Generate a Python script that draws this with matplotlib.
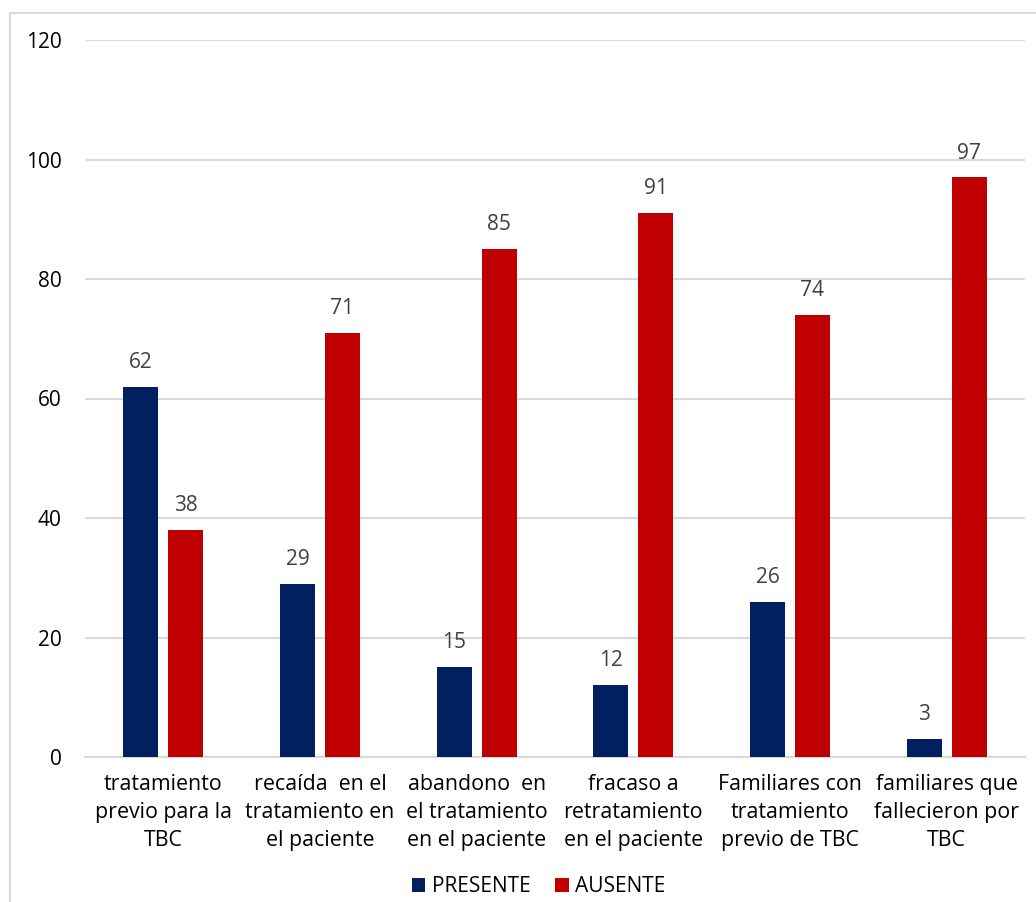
import matplotlib
matplotlib.use("Agg")
import matplotlib.pyplot as plt
import numpy as np
from matplotlib.patches import Rectangle

categories = ["tratamiento\nprevio para la\nTBC",
              "recaída  en el\ntratamiento en\nel paciente",
              "abandono  en\nel tratamiento\nen el paciente",
              "fracaso a\nretratamiento\nen el paciente",
              "Familiares con\ntratamiento\nprevio de TBC",
              "familiares que\nfallecieron por\nTBC"]
presente = [62, 29, 15, 12, 26, 3]
ausente = [38, 71, 85, 91, 74, 97]
series_names = ["PRESENTE", "AUSENTE"]
yticks = [0, 20, 40, 60, 80, 100, 120]

plt.rcParams['font.family'] = ['Open Sans', 'DejaVu Sans']

fig = plt.figure(figsize=(10.36, 9.02), dpi=100)
ax = fig.add_axes([85/1036, 1-757/902, 940/1036, 717/902])

x = np.arange(len(categories))
w = 0.223
off = 0.1435
b1 = ax.bar(x - off, presente, w, color="#002060", label=series_names[0], zorder=3)
b2 = ax.bar(x + off, ausente, w, color="#C00000", label=series_names[1], zorder=3)

for bars, vals in ((b1, presente), (b2, ausente)):
    for r, v in zip(bars, vals):
        ax.annotate(str(v), (r.get_x() + r.get_width()/2, v), xytext=(0, 10),
                    textcoords="offset points", ha="center", va="bottom",
                    fontsize=15, color="#404040")

ax.set_xlim(-0.5, len(categories) - 0.5)
ax.set_ylim(0, 120)
ax.set_yticks(yticks)
ax.set_yticklabels([str(t) for t in yticks], fontsize=15, color="#000000")
ax.set_xticks(x)
ax.set_xticklabels(categories, fontsize=15.4, color="#000000", linespacing=1.45)
ax.tick_params(axis="both", length=0)
ax.tick_params(axis="y", pad=17)
ax.tick_params(axis="x", pad=12)
ax.grid(axis="y", color="#d9d9d9", linewidth=1.5, zorder=0)
for s in ("top", "right", "left"):
    ax.spines[s].set_visible(False)
ax.spines["bottom"].set_color("#d9d9d9")
ax.spines["bottom"].set_linewidth(1.5)

fig.legend(handles=[b1, b2], loc="center", bbox_to_anchor=(0.52, 1-887/902),
           ncol=2, frameon=False, fontsize=15, handlelength=0.65, handleheight=0.65,
           handletextpad=0.3, columnspacing=1.2)

fig.patches.append(Rectangle((10/1036, -0.1), 1.2, 1-13/902 + 0.1,
                             transform=fig.transFigure, fill=False,
                             edgecolor="#d9d9d9", linewidth=1.5))

fig.savefig("out.png", dpi=100)
